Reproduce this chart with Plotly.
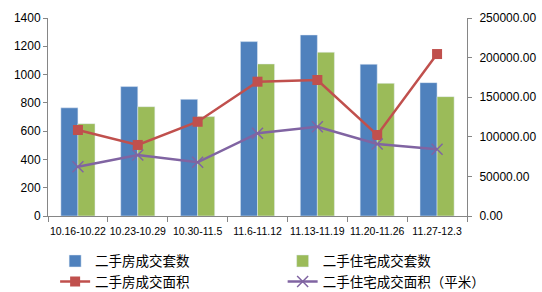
import plotly.graph_objects as go

weeks = ["10.16-10.22", "10.23-10.29", "10.30-11.5", "11.6-11.12",
         "11.13-11.19", "11.20-11.26", "11.27-12.3"]
house_sets = [765, 915, 825, 1233, 1280, 1073, 943]
resid_sets = [653, 773, 703, 1075, 1158, 938, 844]
house_area = [108600, 89700, 119000, 169600, 171700, 102300, 204500]
resid_area = [62200, 77000, 67800, 104400, 112700, 90900, 84200]

names = ["二手房成交套数", "二手住宅成交套数", "二手房成交面积", "二手住宅成交面积（平米）"]
blue, green, red, purple = "#4F81BD", "#9BBB59", "#C0504D", "#8064A2"

fig = go.Figure()
fig.add_trace(go.Bar(x=weeks, y=house_sets, name=names[0], marker_color=blue,
                     legend="legend"))
fig.add_trace(go.Bar(x=weeks, y=resid_sets, name=names[1], marker_color=green,
                     legend="legend2"))
fig.add_trace(go.Scatter(x=weeks, y=house_area, name=names[2], yaxis="y2",
                         mode="lines+markers", legend="legend",
                         line=dict(color=red, width=2.5),
                         marker=dict(symbol="square", size=10, color=red)))
fig.add_trace(go.Scatter(x=weeks, y=resid_area, name=names[3], yaxis="y2",
                         mode="lines+markers", legend="legend2",
                         line=dict(color=purple, width=2.5),
                         marker=dict(symbol="x-thin-open", size=11,
                                     line=dict(color=purple, width=1.5))))

x_font = dict(family="Liberation Sans, Arial", size=10.5, color="#000")
y_font = dict(family="Liberation Sans, Arial", size=12, color="#000")
legend_common = dict(orientation="v", yanchor="top", xanchor="left",
                     y=-0.15, tracegroupgap=0, itemwidth=30,
                     bgcolor="rgba(0,0,0,0)",
                     font=dict(family="Noto Sans CJK SC", size=13.5, color="#000"))
fig.update_layout(
    width=542, height=292,
    margin=dict(l=48, r=75, t=18, b=76, autoexpand=False),
    paper_bgcolor="white", plot_bgcolor="white",
    barmode="group", bargap=0.43, bargroupgap=0,
    font=dict(family="Noto Sans CJK SC", size=12, color="#000"),
    xaxis=dict(type="category", showline=True, linecolor="#868686",
               ticks="outside", tickson="boundaries", ticklen=5,
               tickcolor="#868686", tickfont=x_font, tickangle=0,
               ticklabelstandoff=5, showgrid=False),
    yaxis=dict(range=[0, 1400], dtick=200, showline=True, linecolor="#868686",
               ticks="outside", ticklen=4, tickcolor="#868686",
               tickfont=y_font, showgrid=False, zeroline=False),
    yaxis2=dict(range=[0, 250000], dtick=50000, overlaying="y", side="right",
                showline=True, linecolor="#868686", ticks="outside",
                ticklen=4, tickcolor="#868686", tickformat=".2f",
                ticklabelstandoff=5,
                tickfont=y_font, showgrid=False, zeroline=False),
    legend=dict(x=0.017, **legend_common),
    legend2=dict(x=0.56, **legend_common),
)

fig.write_html("out.html")
